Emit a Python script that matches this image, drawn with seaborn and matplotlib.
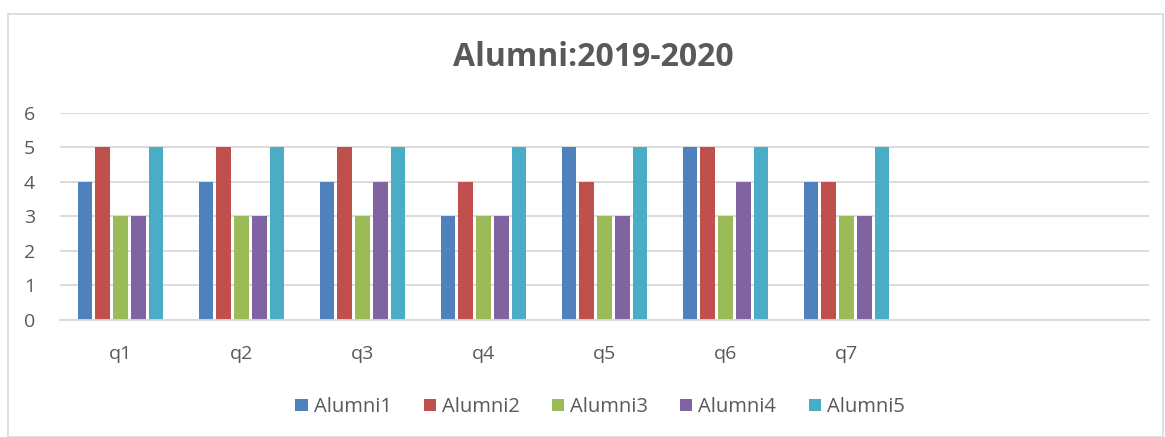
import matplotlib
matplotlib.use("Agg")
import matplotlib.pyplot as plt
import seaborn as sns
import pandas as pd
from matplotlib.patches import Rectangle, Patch

questions = ["q1", "q2", "q3", "q4", "q5", "q6", "q7"]
alumni1 = [4, 4, 4, 3, 5, 5, 4]
alumni2 = [5, 5, 5, 4, 4, 5, 4]
alumni3 = [3, 3, 3, 3, 3, 3, 3]
alumni4 = [3, 3, 4, 3, 3, 4, 3]
alumni5 = [5, 5, 5, 5, 5, 5, 5]
series_names = ["Alumni1", "Alumni2", "Alumni3", "Alumni4", "Alumni5"]
colors = ["#4F81BD", "#C0504D", "#9BBB59", "#8064A2", "#4BACC6"]

rows = []
for name, vals in zip(series_names, [alumni1, alumni2, alumni3, alumni4, alumni5]):
    for q, v in zip(questions, vals):
        rows.append({"question": q, "series": name, "value": v})
df = pd.DataFrame(rows)

sns.set_theme(style="white")
plt.rcParams['font.family'] = ['Open Sans', 'DejaVu Sans']

fig = plt.figure(figsize=(11.65, 4.37), dpi=100)
ax = fig.add_axes([60/1165, 1-320/437, (1149-60)/1165, (320-112.7)/437])

sns.barplot(data=df, x="question", y="value", hue="series", order=questions,
            hue_order=series_names, palette=colors, width=0.735, gap=0.17,
            saturation=1, ax=ax, legend=False, errorbar=None, linewidth=0)

ax.set_xlim(-0.5, 8.5)
ax.set_ylim(0, 6)
ax.set_yticks(range(0, 7))
ax.yaxis.grid(True, color="#D9D9D9", linewidth=1.3)
ax.set_axisbelow(True)
for s in ["top", "right", "left"]:
    ax.spines[s].set_visible(False)
ax.spines["bottom"].set_color("#D9D9D9")
ax.spines["bottom"].set_linewidth(1.3)
ax.tick_params(axis="y", length=0, pad=18, labelsize=14, labelcolor="#595959")
ax.tick_params(axis="x", length=0, pad=18, labelsize=14, labelcolor="#595959")
ax.set_xlabel("")
ax.set_ylabel("")

fig.text(593/1165, 1-57/437, "Alumni:2019-2020", ha="center", va="center",
         fontsize=23, fontweight="bold", color="#595959")

handles = [Patch(facecolor=c, edgecolor="none") for c in colors]
fig.legend(handles, series_names, loc="center", bbox_to_anchor=(600/1165, 1-407/437),
           ncol=5, frameon=False, fontsize=14.5, labelcolor="#595959",
           handlelength=0.6, handleheight=0.6, handletextpad=0.3, columnspacing=1.6)

fig.patches.append(Rectangle((8/1165, 0), 1-8/1165 - 2/1165, 1-14/437, transform=fig.transFigure,
                             fill=False, edgecolor="#D9D9D9", linewidth=1.2))

fig.savefig("out.png", dpi=100)
